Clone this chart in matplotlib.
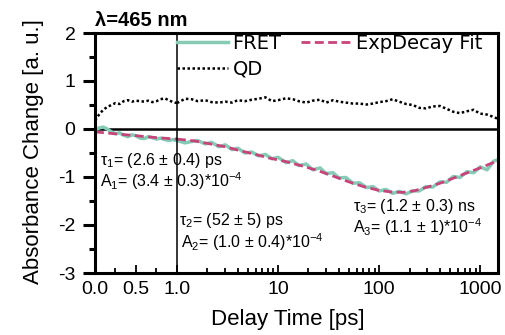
import matplotlib
matplotlib.use("Agg")
import matplotlib.pyplot as plt
from matplotlib.ticker import MultipleLocator, LogLocator, NullFormatter, FixedLocator

plt.rcParams['font.family'] = ['Liberation Sans', 'DejaVu Sans']
plt.rcParams['mathtext.fontset'] = 'custom'
plt.rcParams['mathtext.rm'] = 'Liberation Sans'
plt.rcParams['mathtext.it'] = 'Liberation Sans'
plt.rcParams['axes.unicode_minus'] = False

# --- data (linear part 0..1 ps, log part 1..1500 ps) ---
T_LIN = [0.0, 0.05, 0.10, 0.15, 0.20, 0.25, 0.30, 0.35, 0.40, 0.45, 0.50,
         0.55, 0.60, 0.65, 0.70, 0.75, 0.80, 0.85, 0.90, 0.95, 1.0]
FRET_LIN = [-0.02, 0.02, 0.04, 0.00, -0.06, -0.10, -0.08, -0.13, -0.16, -0.12, -0.14,
            -0.19, -0.20, -0.16, -0.18, -0.21, -0.19, -0.22, -0.24, -0.22, -0.24]
QD_LIN = [0.18, 0.30, 0.40, 0.46, 0.50, 0.54, 0.52, 0.58, 0.60, 0.57, 0.59,
          0.58, 0.57, 0.59, 0.56, 0.58, 0.62, 0.64, 0.60, 0.56, 0.54]

T_LOG = [1.0, 1.2, 1.4, 1.6, 1.9, 2.2, 2.6, 3.0, 3.5, 4.0, 4.7, 5.5, 6.4, 7.5, 8.7,
         10, 12, 14, 16, 19, 22, 26, 30, 35, 40, 47, 55, 64, 75, 87,
         100, 117, 136, 158, 185, 215, 250, 290, 340, 400, 465, 540, 630, 740, 860,
         1000, 1170, 1360, 1500]
FRET_LOG = [-0.24, -0.29, -0.26, -0.24, -0.31, -0.28, -0.37, -0.33, -0.43, -0.40, -0.50, -0.48, -0.56, -0.53, -0.62,
            -0.59, -0.70, -0.66, -0.76, -0.73, -0.85, -0.81, -0.93, -0.91, -1.02, -1.01, -1.13, -1.12, -1.22, -1.20,
            -1.29, -1.26, -1.34, -1.30, -1.35, -1.29, -1.29, -1.20, -1.21, -1.10, -1.11, -0.99, -1.01, -0.89, -0.91,
            -0.79, -0.85, -0.67, -0.64]
QD_LOG = [0.54, 0.63, 0.62, 0.58, 0.60, 0.56, 0.55, 0.57, 0.55, 0.60, 0.58, 0.61, 0.63, 0.66, 0.58,
          0.60, 0.64, 0.62, 0.58, 0.55, 0.59, 0.61, 0.55, 0.60, 0.57, 0.55, 0.53, 0.53, 0.51, 0.53,
          0.56, 0.58, 0.62, 0.57, 0.52, 0.50, 0.44, 0.43, 0.47, 0.48, 0.42, 0.36, 0.33, 0.37, 0.40,
          0.32, 0.30, 0.25, 0.21]

T_FIT = [0.0, 0.25, 0.5, 0.75, 1.0, 1.5, 2, 3, 4, 6, 8, 12, 18, 25, 35, 50, 70,
         100, 130, 170, 220, 300, 400, 550, 750, 1000, 1500]
FIT = [-0.06, -0.10, -0.14, -0.18, -0.21, -0.25, -0.30, -0.37, -0.44, -0.53, -0.60, -0.68, -0.78,
       -0.87, -0.98, -1.10, -1.20, -1.28, -1.31, -1.32, -1.29, -1.21, -1.13, -1.02, -0.91, -0.81, -0.66]

C_FRET = '#86cbb6'
C_FIT = '#c8437a'

fig = plt.figure(figsize=(5.06, 3.35), dpi=100)
W, H = 506.0, 335.0
x0, x1, x2 = 95, 177, 498
ytop, ybot = 33, 273
axL = fig.add_axes([x0 / W, 1 - ybot / H, (x1 - x0) / W, (ybot - ytop) / H])
axR = fig.add_axes([x1 / W, 1 - ybot / H, (x2 - x1) / W, (ybot - ytop) / H], sharey=axL)
axR.patch.set_visible(False)

fit_lin = [(t, v) for t, v in zip(T_FIT, FIT) if t <= 1.0]
fit_log = [(t, v) for t, v in zip(T_FIT, FIT) if t >= 1.0]

dash = (0, (3.2, 1.6))
dots = (0, (1, 1))

axL.plot(T_LIN, QD_LIN, color='black', lw=1.8, ls=dots)
axL.plot(T_LIN, FRET_LIN, color=C_FRET, lw=2.5)
axL.plot([p[0] for p in fit_lin], [p[1] for p in fit_lin], color=C_FIT, lw=2.0, ls=dash)

axR.plot(T_LOG, QD_LOG, color='black', lw=1.8, ls=dots, label='QD')
axR.plot(T_LOG, FRET_LOG, color=C_FRET, lw=2.5, label='FRET')
axR.plot([p[0] for p in fit_log], [p[1] for p in fit_log], color=C_FIT, lw=2.0, ls=dash,
         label='ExpDecay Fit')

for ax in (axL, axR):
    ax.axhline(0, color='black', lw=1.8, zorder=1)
    ax.spines['top'].set_linewidth(2.2)
    ax.spines['bottom'].set_linewidth(2.2)
    ax.tick_params(axis='x', which='major', direction='in', length=6, width=1.3,
                   labelsize=14, pad=6)
    ax.tick_params(axis='x', which='minor', direction='in', length=3.5, width=1.3)

axL.set_xlim(0, 1)
axL.set_ylim(-3, 2)
axL.spines['left'].set_linewidth(2.2)
axL.spines['right'].set_visible(False)
axL.xaxis.set_major_locator(FixedLocator([0.0, 0.5, 1.0]))
axL.xaxis.set_minor_locator(FixedLocator([0.25, 0.75]))
axL.set_xticklabels(['0.0', '0.5', '1.0'])
axL.yaxis.set_major_locator(MultipleLocator(1))
axL.yaxis.set_minor_locator(MultipleLocator(0.5))
axL.tick_params(axis='y', which='major', direction='out', length=9, width=2.2,
                labelsize=14, pad=5)
axL.tick_params(axis='y', which='minor', direction='out', length=4.5, width=2.2)

axR.set_xscale('log')
axR.set_xlim(1, 1500)
axR.spines['left'].set_linewidth(1.1)
axR.spines['left'].set_color('black')
axR.spines['right'].set_linewidth(2.2)
axR.xaxis.set_major_locator(FixedLocator([10, 100, 1000]))
axR.xaxis.set_minor_locator(LogLocator(base=10, subs=range(2, 10)))
axR.xaxis.set_minor_formatter(NullFormatter())
axR.set_xticklabels(['10', '100', '1000'])
axR.tick_params(axis='y', which='both', left=False, labelleft=False)

# legend
handles, labels = axR.get_legend_handles_labels()
order = [1, 0, 2]
fig.legend([handles[i] for i in order], [labels[i] for i in order],
           loc='upper left', bbox_to_anchor=(x1 / W, 1 - 34 / H), ncol=2,
           frameon=False, prop={'family': 'DejaVu Sans', 'size': 14},
           handlelength=2.6, handletextpad=0.25, columnspacing=1.0,
           labelspacing=0.35, borderpad=0, borderaxespad=0)

fig.text(x0 / W, 1 - 21 / H, 'λ=465 nm', fontsize=14.5, fontweight='bold',
         ha='left', va='center')
fig.text(34 / W, 1 - 152 / H, 'Absorbance Change [a. u.]', fontsize=16,
         rotation=90, ha='center', va='center')
fig.text(288 / W, 1 - 320 / H, 'Delay Time [ps]', fontsize=16,
         ha='center', va='center')

ann = 11.5
fig.text(100 / W, 1 - 161 / H, 'τ$_1$= (2.6 ± 0.4) ps', fontsize=ann, ha='left', va='center')
fig.text(100 / W, 1 - 181 / H, 'A$_1$= (3.4 ± 0.3)*10$^{-4}$', fontsize=ann, ha='left', va='center')
fig.text(179 / W, 1 - 221 / H, 'τ$_2$= (52 ± 5) ps', fontsize=ann, ha='left', va='center')
fig.text(181 / W, 1 - 242 / H, 'A$_2$= (1.0 ± 0.4)*10$^{-4}$', fontsize=ann, ha='left', va='center')
fig.text(353 / W, 1 - 207 / H, 'τ$_3$= (1.2 ± 0.3) ns', fontsize=ann, ha='left', va='center')
fig.text(353 / W, 1 - 227 / H, 'A$_3$= (1.1 ± 1)*10$^{-4}$', fontsize=ann, ha='left', va='center')

fig.savefig('out.png', dpi=100)
